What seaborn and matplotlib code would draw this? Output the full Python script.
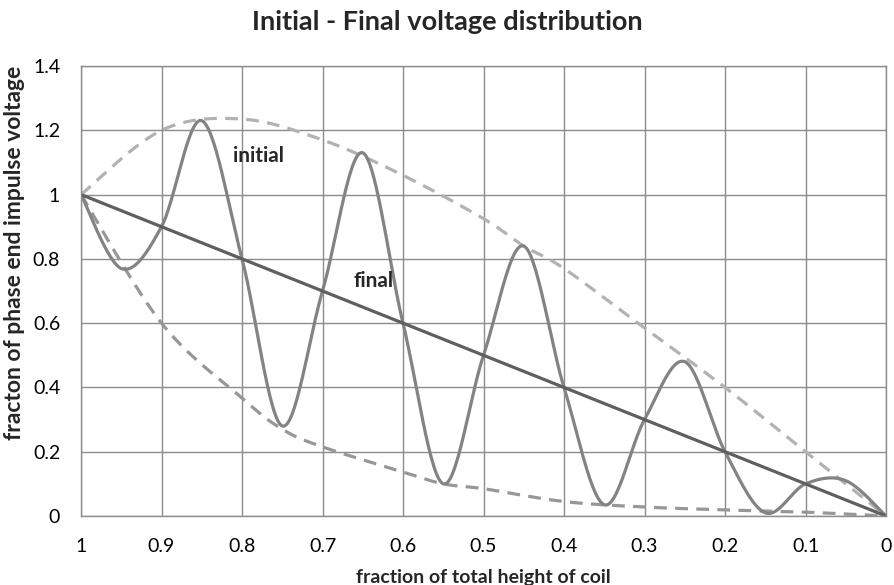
import numpy as np
import pandas as pd
import matplotlib
matplotlib.use("Agg")
import matplotlib.pyplot as plt
import seaborn as sns

# ---- data ----
initial_x = [1.0, 0.95, 0.9, 0.85, 0.8, 0.75, 0.7, 0.65, 0.6, 0.55, 0.5,
             0.45, 0.4, 0.35, 0.3, 0.25, 0.2, 0.15, 0.1, 0.05, 0.0]
initial_y = [1.0, 0.77, 0.9, 1.23, 0.8, 0.28, 0.7, 1.13, 0.6, 0.1, 0.5,
             0.84, 0.4, 0.035, 0.3, 0.48, 0.2, 0.01, 0.1, 0.11, 0.0]

final_x = [1.0, 0.0]
final_y = [1.0, 0.0]

upper_x = [1.0, 0.9, 0.8, 0.7, 0.6, 0.5, 0.45, 0.4, 0.3, 0.2, 0.1, 0.0]
upper_y = [1.0, 1.2, 1.235, 1.17, 1.06, 0.925, 0.84, 0.77, 0.585, 0.4, 0.2, 0.0]

lower_x = [1.0, 0.9, 0.8, 0.75, 0.7, 0.6, 0.55, 0.5, 0.4, 0.3, 0.2, 0.1, 0.0]
lower_y = [1.0, 0.6, 0.367, 0.27, 0.215, 0.137, 0.1, 0.085, 0.045, 0.028, 0.019, 0.012, 0.0]

x_ticks = [1.0, 0.9, 0.8, 0.7, 0.6, 0.5, 0.4, 0.3, 0.2, 0.1, 0.0]
x_tick_labels = ["1", "0.9", "0.8", "0.7", "0.6", "0.5", "0.4", "0.3", "0.2", "0.1", "0"]
y_ticks = [0, 0.2, 0.4, 0.6, 0.8, 1.0, 1.2, 1.4]
y_tick_labels = ["0", "0.2", "0.4", "0.6", "0.8", "1", "1.2", "1.4"]


def smooth(xs, ys, n=30):
    """Catmull-Rom smoothing like Excel's 'smoothed line' option."""
    p = np.column_stack([xs, ys]).astype(float)
    p = np.vstack([p[0], p, p[-1]])
    out = []
    t = np.linspace(0, 1, n, endpoint=False)[:, None]
    for i in range(1, len(p) - 2):
        p0, p1, p2, p3 = p[i - 1], p[i], p[i + 1], p[i + 2]
        seg = 0.5 * ((2 * p1) + (-p0 + p2) * t + (2 * p0 - 5 * p1 + 4 * p2 - p3) * t ** 2
                     + (-p0 + 3 * p1 - 3 * p2 + p3) * t ** 3)
        out.append(seg)
    out.append(p[-2][None, :])
    out = np.vstack(out)
    return pd.DataFrame({"x": out[:, 0], "y": out[:, 1]})


sns.set_style("white")
plt.rcParams["font.family"] = ["Lato", "DejaVu Sans"]

fig = plt.figure(figsize=(8.94, 5.85), dpi=100)
ax = fig.add_axes([81 / 894, 1 - 516 / 585, 805 / 894, 450 / 585])

grid_c = "#8c8c8c"
ax.set_axisbelow(True)
ax.grid(True, color=grid_c, linewidth=1.0)

up = smooth(upper_x, upper_y)
lo = smooth(lower_x, lower_y)
ini = smooth(initial_x, initial_y)
fin = pd.DataFrame({"x": final_x, "y": final_y})

sns.lineplot(data=up, x="x", y="y", ax=ax, sort=False, color="#b2b2b2",
             linewidth=2.3, estimator=None)
ax.lines[-1].set_dashes((4, 2.6))
sns.lineplot(data=lo, x="x", y="y", ax=ax, sort=False, color="#979797",
             linewidth=2.3, estimator=None)
ax.lines[-1].set_dashes((4, 2.6))
sns.lineplot(data=ini, x="x", y="y", ax=ax, sort=False, color="#838383",
             linewidth=2.3, estimator=None)
sns.lineplot(data=fin, x="x", y="y", ax=ax, sort=False, color="#5f5f5f",
             linewidth=2.3, estimator=None)

ax.set_xlim(1.0, 0.0)
ax.set_ylim(0, 1.4)
ax.set_xticks(x_ticks)
ax.set_xticklabels(x_tick_labels)
ax.set_yticks(y_ticks)
ax.set_yticklabels(y_tick_labels)
ax.tick_params(axis="both", which="both", labelsize=14, colors="#000000",
               length=5, width=1, direction="out")
ax.tick_params(axis="x", color=grid_c, pad=11)
ax.tick_params(axis="y", color=grid_c, pad=10)
for s in ax.spines.values():
    s.set_color(grid_c)
    s.set_linewidth(1.0)

ax.set_xlabel("fraction of total height of coil", fontsize=14, fontweight="bold", labelpad=10)
ax.set_ylabel("fracton of phase end impulse voltage", fontsize=16.5, fontweight="bold")
ax.yaxis.set_label_coords(-0.07, 0.585)

ax.text(0.779, 1.12, "initial", fontsize=15, fontweight="bold", ha="center", va="center")
ax.text(0.637, 0.73, "final", fontsize=15, fontweight="bold", ha="center", va="center")

fig.text(0.5, 1 - 22 / 585, "Initial - Final voltage distribution", fontsize=19.5,
         fontweight="bold", ha="center", va="center")

fig.savefig("out.png", dpi=100)
